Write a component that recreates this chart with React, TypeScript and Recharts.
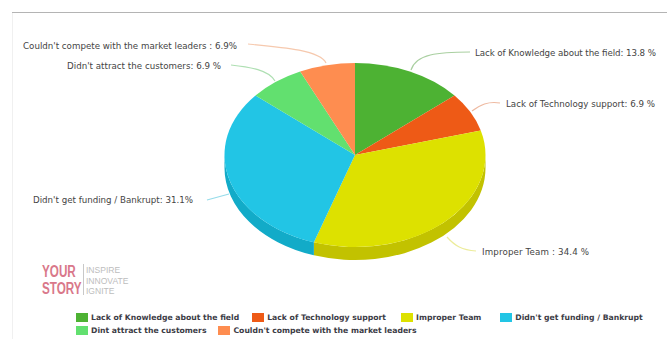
import React from "react";
import { PieChart, Pie, Legend } from "recharts";

// Reasons startups fail, clockwise from twelve o'clock
const categories = [
  "Lack of Knowledge about the field",
  "Lack of Technology support",
  "Improper Team",
  "Didn't get funding / Bankrupt",
  "Dint attract the customers",
  "Couldn't compete with the market leaders",
];
const shares = [13.8, 6.9, 34.4, 31.1, 6.9, 6.9];
const calloutTexts = [
  "Lack of Knowledge about the field: 13.8 %",
  "Lack of Technology support: 6.9 %",
  "Improper Team : 34.4 %",
  "Didn't get funding / Bankrupt: 31.1%",
  "Didn't attract the customers: 6.9 %",
  "Couldn't compete with the market leaders : 6.9%",
];
const topColors = ["#4db233", "#ee5a16", "#dde100", "#22c5e5", "#62e06f", "#fe8d50"];
const sideColors = ["#3d9228", "#c44a10", "#c2c200", "#12abc8", "#4fc05a", "#d97540"];
const leaderColors = ["#a9cfa0", "#eeb9a0", "#ecec9a", "#96dcea", "#aedfb2", "#f6c9ae"];

const slices = categories.map((name, i) => ({
  name,
  value: shares[i],
  fill: topColors[i],
  side: sideColors[i],
}));

// Where each callout sits: text anchor point, set width and the curved leader to the pie
const calloutLayout = [
  { x: 475, y: 56, width: 181, anchor: "start", path: "M470 52 C438 52 416 54 411 70" },
  { x: 506, y: 107, width: 149, anchor: "start", path: "M500 103 C488 101 480 105 472 111" },
  { x: 482, y: 255, width: 107, anchor: "start", path: "M476 251 C462 250 455 246 447 237" },
  { x: 193, y: 203, width: 160, anchor: "end", path: "M207 200 L229 194" },
  { x: 221, y: 69, width: 154, anchor: "end", path: "M231 65 C250 67 269 70 275 81" },
  { x: 237, y: 49, width: 214, anchor: "end", path: "M248 44 C280 47 320 50 326 63" },
];

// Legend spacing: the space left after each entry of a row
const legendRowGaps = [
  [13, 15, 19, 0],
  [12, 0],
];

const TILT = 0.705;
const DEPTH = 13;

// Pie slice seen from above at an angle: an elliptical sector with a rim below it
function TiltedSlice(props: any) {
  const { cx, cy, outerRadius: r, startAngle, endAngle, fill, side } = props;
  const ry = r * TILT;
  const at = (deg: number) => {
    const a = (deg * Math.PI) / 180;
    return [cx + r * Math.cos(a), cy - ry * Math.sin(a)];
  };
  const [x0, y0] = at(startAngle);
  const [x1, y1] = at(endAngle);
  const large = Math.abs(startAngle - endAngle) > 180 ? 1 : 0;
  const top = `M${cx} ${cy} L${x0} ${y0} A${r} ${ry} 0 ${large} 1 ${x1} ${y1} Z`;

  // The rim only shows where the slice crosses the front half of the ellipse (0 to -180 degrees)
  const from = Math.min(startAngle, 0);
  const to = Math.max(endAngle, -180);
  let rim = null;
  if (from > to) {
    const [ax, ay] = at(from);
    const [bx, by] = at(to);
    rim = (
      <path
        d={`M${ax} ${ay} A${r} ${ry} 0 0 1 ${bx} ${by} L${bx} ${by + DEPTH} A${r} ${ry} 0 0 0 ${ax} ${ay + DEPTH} Z`}
        fill={side}
      />
    );
  }
  return (
    <g>
      {rim}
      <path d={top} fill={fill} />
    </g>
  );
}

function Callout(props: any) {
  const i = props.index;
  const spot = calloutLayout[i];
  return (
    <g>
      <path d={spot.path} fill="none" stroke={leaderColors[i]} strokeWidth={1.2} />
      <text
        x={spot.anchor === "end" ? spot.x - spot.width : spot.x}
        y={spot.y}
        textLength={spot.width}
        fontFamily="'DejaVu Sans', sans-serif"
        fontSize={8.7}
        fill="#444444"
      >
        {calloutTexts[i]}
      </text>
    </g>
  );
}

function LegendRows({ payload }: any) {
  const items = payload || [];
  const rows = [items.slice(0, 4), items.slice(4)];
  return (
    <div style={{ fontFamily: "'DejaVu Sans', sans-serif", fontWeight: 700, fontSize: 7.7, color: "#3c3c46" }}>
      {rows.map((row: any[], r: number) => (
        <div key={r} style={{ display: "flex", height: 13, alignItems: "center", whiteSpace: "nowrap" }}>
          {row.map((item: any, c: number) => (
            <span
              key={item.value}
              style={{ display: "inline-flex", alignItems: "center", gap: 3, marginRight: legendRowGaps[r][c] }}
            >
              <span style={{ width: 12, height: 9, background: item.color, display: "inline-block" }} />
              {item.value}
            </span>
          ))}
        </div>
      ))}
    </div>
  );
}

export default function App() {
  return (
    <div style={{ position: "absolute", left: 0, top: 0, width: 667, height: 339, background: "#fff", overflow: "hidden" }}>
      <PieChart width={667} height={339} margin={{ top: 0, right: 0, bottom: 0, left: 0 }}>
        <line x1={12} y1={12.5} x2={667} y2={12.5} stroke="#b4b4b4" />
        <line x1={12.5} y1={13} x2={12.5} y2={339} stroke="#f0f0f0" />
        <Pie
          data={slices}
          dataKey="value"
          nameKey="name"
          cx={355}
          cy={155}
          outerRadius={130.5}
          startAngle={90}
          endAngle={-270}
          stroke="none"
          isAnimationActive={false}
          shape={TiltedSlice}
          label={Callout}
          labelLine={false}
        />
        <g fontFamily="'Liberation Sans', sans-serif">
          <text transform="translate(42 277) scale(0.78 1.12)" fontSize={15} fontWeight={700} fill="#d9788a">YOUR</text>
          <text transform="translate(42 294) scale(0.78 1.12)" fontSize={15} fontWeight={700} fill="#d9788a">STORY</text>
          <line x1={83.5} y1={264} x2={83.5} y2={295} stroke="#c8c8c8" />
          <text transform="translate(86 273) scale(0.9 1)" fontSize={9.5} fill="#bdbdbd">INSPIRE</text>
          <text transform="translate(86 283.5) scale(0.9 1)" fontSize={9.5} fill="#bdbdbd">INNOVATE</text>
          <text transform="translate(86 294) scale(0.9 1)" fontSize={9.5} fill="#bdbdbd">IGNITE</text>
        </g>
        <Legend
          content={LegendRows}
          itemSorter={null}
          wrapperStyle={{ position: "absolute", left: 76, top: 311, width: 591, bottom: "auto" }}
        />
      </PieChart>
    </div>
  );
}
